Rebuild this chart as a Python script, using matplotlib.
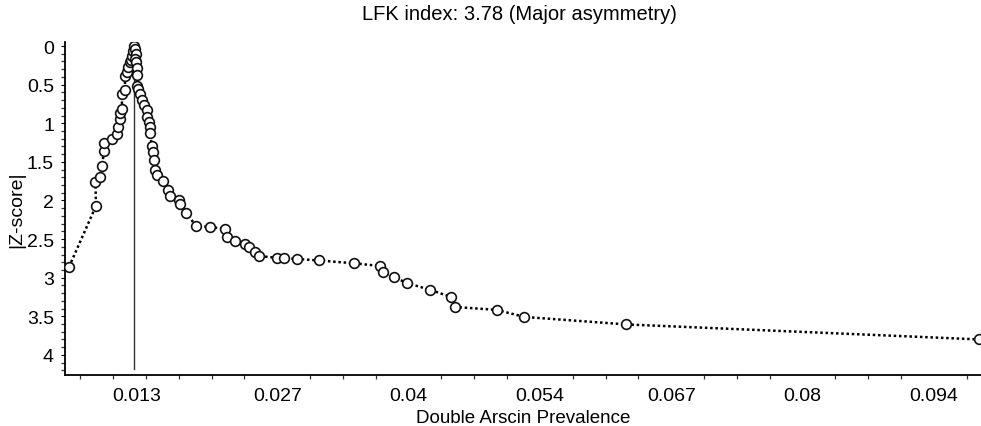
import matplotlib
matplotlib.use("Agg")
import matplotlib.pyplot as plt
import numpy as np

plt.rcParams['font.family'] = ['Liberation Sans', 'DejaVu Sans']

# Doi plot points, in plotting order (left limb up to the peak, then the right limb)
prevalence = [
    0.00556, 0.00831, 0.00826, 0.00872, 0.00892, 0.00913, 0.00913, 0.00994,
    0.01045, 0.01055, 0.01076, 0.01076, 0.01096, 0.01096, 0.01127, 0.01127,
    0.01147, 0.01157, 0.01178, 0.01188, 0.01198, 0.01208, 0.01219,
    0.01229, 0.01239, 0.01234, 0.01239, 0.01246, 0.01249, 0.01249, 0.01262,
    0.01280, 0.01297, 0.01321, 0.01348, 0.01351, 0.01372, 0.01387, 0.01387,
    0.01399, 0.01412, 0.01423, 0.01433, 0.01453, 0.01519, 0.01565, 0.01586,
    0.01678, 0.01688, 0.01754, 0.01851, 0.01994, 0.02152, 0.02167, 0.02249,
    0.02351, 0.02391, 0.02453, 0.02493, 0.02677, 0.02748, 0.02881, 0.03105,
    0.03462, 0.03727, 0.03755, 0.03875, 0.04000, 0.04237, 0.04451, 0.04492,
    0.04920, 0.05201, 0.06241, 0.09836,
]
zscore = [
    2.861, 2.071, 1.761, 1.696, 1.553, 1.359, 1.256, 1.204,
    1.139, 1.049, 0.945, 0.867, 0.816, 0.621, 0.570, 0.388,
    0.337, 0.272, 0.207, 0.181, 0.129, 0.065, 0.000,
    0.039, 0.104, 0.168, 0.207, 0.285, 0.375, 0.518, 0.557,
    0.621, 0.699, 0.764, 0.828, 0.919, 0.984, 1.049, 1.126,
    1.291, 1.372, 1.476, 1.605, 1.670, 1.748, 1.864, 1.942,
    1.994, 2.045, 2.162, 2.330, 2.343, 2.369, 2.472, 2.524,
    2.563, 2.602, 2.667, 2.718, 2.744, 2.748, 2.757, 2.777,
    2.813, 2.848, 2.926, 2.994, 3.068, 3.156, 3.249, 3.379,
    3.417, 3.508, 3.605, 3.799,
]
mode_x = 0.01219
x_tick_vals = [0.0125, 0.0268, 0.0402, 0.0536, 0.067, 0.0804, 0.0938]
x_tick_labels = ['0.013', '0.027', '0.04', '0.054', '0.067', '0.08', '0.094']
y_tick_vals = [0, 0.5, 1, 1.5, 2, 2.5, 3, 3.5, 4]
y_tick_labels = ['0', '0.5', '1', '1.5', '2', '2.5', '3', '3.5', '4']
title = 'LFK index: 3.78 (Major asymmetry)'

fig = plt.figure(figsize=(9.81, 4.27), dpi=100)
ax = fig.add_axes([65 / 981, 1 - 376 / 427, 1 - 65 / 981, (376 - 43) / 427])

ax.plot(prevalence, zscore, color='black', lw=1.8, linestyle=(0, (1, 1.1)),
        marker='o', markersize=7, markerfacecolor='white',
        markeredgecolor='#111111', markeredgewidth=1.2, zorder=3)
ax.plot([mode_x, mode_x], [-0.06, 4.18], color='#333333', lw=1.0, zorder=2)

ax.set_xlim(0.00515, 0.0986)
ax.set_ylim(4.26, -0.052)

ax.set_xticks(x_tick_vals)
ax.set_xticklabels(x_tick_labels)
ax.set_xticks(np.arange(0.0067, 0.098, 0.00335), minor=True)
ax.set_yticks(y_tick_vals)
ax.set_yticklabels(y_tick_labels)
ax.set_yticks(np.arange(0, 4.21, 0.1), minor=True)
ax.tick_params(axis='x', which='major', length=0, pad=9, labelsize=14)
ax.tick_params(axis='y', which='major', length=3, pad=5, labelsize=14)
ax.tick_params(which='minor', length=3, width=0.9, color='#333333')

for side in ['top', 'right']:
    ax.spines[side].set_visible(False)
for side in ['left', 'bottom']:
    ax.spines[side].set_linewidth(1.3)

ax.set_xlabel('Double Arscin Prevalence', fontsize=13.5, labelpad=3)
ax.set_ylabel('|Z-score|', fontsize=14, labelpad=1)
fig.text(0.530, 1 - 14 / 427, title, ha='center', va='center', fontsize=14.5)

fig.savefig('out.png', dpi=100)
